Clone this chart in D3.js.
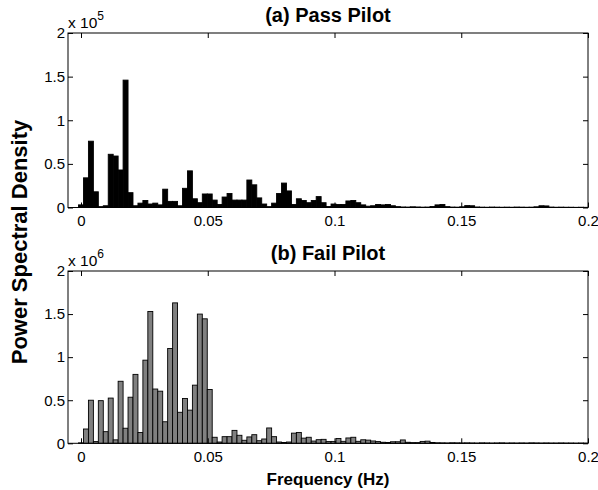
<!DOCTYPE html>
<html>
<head>
<meta charset="utf-8">
<script src="https://cdn.jsdelivr.net/npm/d3@7/dist/d3.min.js"></script>
<style>
  html, body { margin: 0; padding: 0; background: #fff; }
  svg { display: block; font-family: "Liberation Sans", Arial, Helvetica, sans-serif; }
</style>
</head>
<body>
<svg id="chart" width="598" height="490"></svg>
<script>
// Spectral resolution of the PSD estimate (Hz per bin)
const FREQ_STEP = 1 / 512;

// Pass pilot PSD, bins 0..102 (units of 1e5)
const passPSD = [
  0.03, 0.34, 0.76, 0.18, 0.01, 0.02, 0.61, 0.59, 0.43, 1.46,
  0.17, 0.02, 0.05, 0.08, 0.04, 0.05, 0.03, 0.21, 0.07, 0.07,
  0.02, 0.22, 0.42, 0.10, 0.055, 0.155, 0.155, 0.085, 0.035, 0.12,
  0.16, 0.085, 0.085, 0.085, 0.315, 0.26, 0.11, 0.04, 0.01, 0.05,
  0.16, 0.28, 0.19, 0.035, 0.10, 0.08, 0.055, 0.08, 0.125, 0.055,
  0.012, 0.04, 0.035, 0.035, 0.075, 0.08, 0.055, 0.03, 0.015, 0.02,
  0.035, 0.03, 0.035, 0.02, 0.01, 0.006, 0.005, 0.008, 0.006, 0.004,
  0.005, 0.012, 0.03, 0.035, 0.01, 0.005, 0.004, 0.008, 0.022, 0.02,
  0.006, 0.004, 0.003, 0.005, 0.004, 0.003, 0.004, 0.003, 0.005, 0.004,
  0.003, 0.004, 0.008, 0.02, 0.018, 0.005, 0.003, 0.004, 0.003, 0.003,
  0.002, 0.003, 0.002
];

// Fail pilot PSD, bins 0..102 (units of 1e6)
const failPSD = [
  0.005, 0.166, 0.50, 0.02, 0.495, 0.135, 0.525, 0.04, 0.72, 0.175,
  0.535, 0.80, 0.125, 0.965, 1.53, 0.63, 0.605, 0.25, 1.10, 1.63,
  0.36, 0.52, 0.385, 0.675, 1.50, 1.445, 0.625, 0.07, 0.015, 0.077,
  0.077, 0.15, 0.093, 0.035, 0.074, 0.10, 0.03, 0.05, 0.178, 0.077,
  0.015, 0.01, 0.015, 0.118, 0.126, 0.06, 0.07, 0.026, 0.042, 0.046,
  0.02, 0.022, 0.056, 0.023, 0.062, 0.07, 0.023, 0.041, 0.037, 0.027,
  0.02, 0.012, 0.01, 0.018, 0.018, 0.039, 0.012, 0.008, 0.008, 0.022,
  0.025, 0.01, 0.006, 0.005, 0.004, 0.006, 0.005, 0.004, 0.005, 0.004,
  0.003, 0.005, 0.004, 0.003, 0.004, 0.005, 0.003, 0.004, 0.003, 0.004,
  0.003, 0.005, 0.004, 0.003, 0.004, 0.003, 0.003, 0.004, 0.003, 0.003,
  0.002, 0.003, 0.002
];

const xTicks = [0, 0.05, 0.1, 0.15, 0.2];
const xTickLabels = ["0", "0.05", "0.1", "0.15", "0.2"];
const yTicks = [0, 0.5, 1, 1.5, 2];
const yTickLabels = ["0", "0.5", "1", "1.5", "2"];
const panelTitles = ["(a) Pass Pilot", "(b) Fail Pilot"];
const panelExponents = ["5", "6"];
const panelFills = ["#000000", "#808080"];
const xLabel = "Frequency (Hz)";
const yLabel = "Power Spectral Density";

const svg = d3.select("#chart");
const left = 68, right = 588;
const panels = [
  { top: 33, bottom: 207.5, values: passPSD },
  { top: 271, bottom: 443.3, values: failPSD }
];

const x = d3.scaleLinear().domain([-0.00513, 0.2]).range([0, right - left]);
const barW = x(FREQ_STEP) - x(0);

panels.forEach((p, i) => {
  const h = p.bottom - p.top;
  const w = right - left;
  const y = d3.scaleLinear().domain([0, 2]).range([h, 0]);
  const g = svg.append("g").attr("transform", `translate(${left},${p.top})`);

  g.append("clipPath").attr("id", "clip" + i)
    .append("rect").attr("width", w).attr("height", h + 1);

  // bars
  g.append("g").attr("clip-path", `url(#clip${i})`)
    .selectAll("rect").data(p.values).join("rect")
    .attr("x", (d, k) => x(k * FREQ_STEP) - barW / 2)
    .attr("width", barW)
    .attr("y", d => y(d))
    .attr("height", d => h - y(d))
    .attr("fill", panelFills[i])
    .attr("stroke", "#000")
    .attr("stroke-width", 0.9);

  const fmtX = d => xTickLabels[xTicks.indexOf(d)];
  const fmtY = d => yTickLabels[yTicks.indexOf(d)];

  g.append("g").attr("transform", `translate(0,${h})`)
    .call(d3.axisBottom(x).tickValues(xTicks).tickFormat(fmtX)
      .tickSizeInner(-5).tickSizeOuter(0).tickPadding(8));
  g.append("g")
    .call(d3.axisLeft(y).tickValues(yTicks).tickFormat(fmtY)
      .tickSizeInner(-5).tickSizeOuter(0).tickPadding(3));
  g.append("g")
    .call(d3.axisTop(x).tickValues(xTicks).tickFormat("")
      .tickSizeInner(-5).tickSizeOuter(0));
  g.append("g").attr("transform", `translate(${w},0)`)
    .call(d3.axisRight(y).tickValues(yTicks).tickFormat("")
      .tickSizeInner(-5).tickSizeOuter(0));

  g.selectAll(".domain").remove();
  g.selectAll(".tick line").attr("stroke", "#000");
  g.selectAll(".tick text").attr("fill", "#000")
    .style("font-size", "15px")
    .style("font-family", '"Liberation Sans", Arial, sans-serif');

  g.append("rect").attr("width", w).attr("height", h)
    .attr("fill", "none").attr("stroke", "#000").attr("stroke-width", 1);

  // exponent label
  const ex = g.append("text").attr("x", 0).attr("y", -5)
    .style("font-size", "15.5px").attr("fill", "#000");
  ex.append("tspan").text("x 10");
  ex.append("tspan").attr("dy", -8).style("font-size", "12px").text(panelExponents[i]);

  // title
  g.append("text").attr("x", w / 2).attr("y", -11.5)
    .attr("text-anchor", "middle")
    .style("font-size", "20px").style("font-weight", "bold")
    .attr("fill", "#000").text(panelTitles[i]);
});

svg.append("text").attr("x", (left + right) / 2).attr("y", 485)
  .attr("text-anchor", "middle")
  .style("font-size", "17px").style("font-weight", "bold")
  .text(xLabel);

svg.append("text")
  .attr("transform", "translate(26.5,242) rotate(-90)")
  .attr("text-anchor", "middle")
  .style("font-size", "22px").style("font-weight", "bold")
  .text(yLabel);
</script>
</body>
</html>
